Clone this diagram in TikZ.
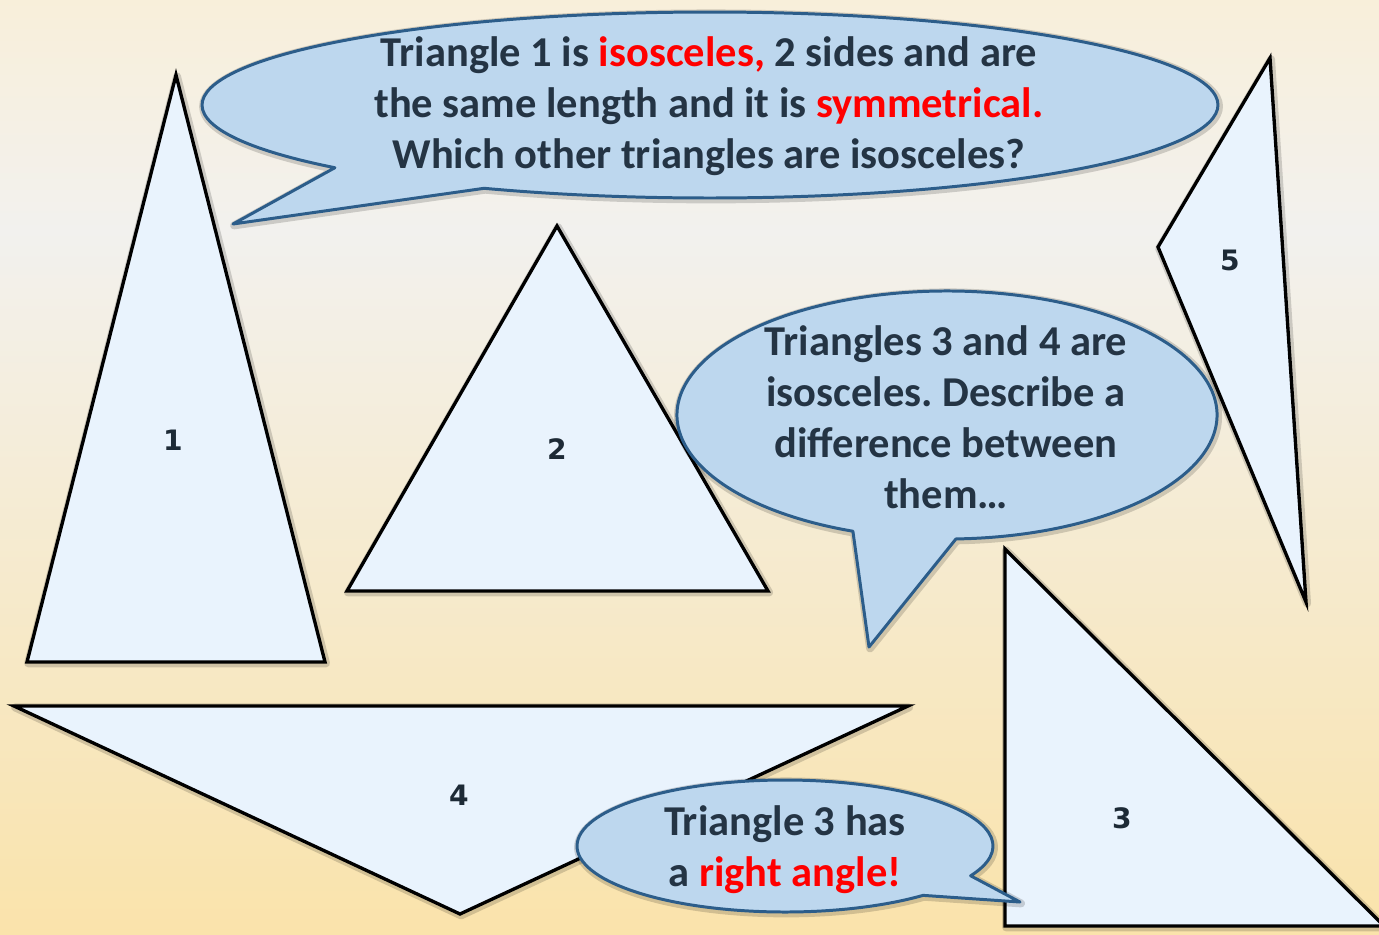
\documentclass[tikz,border=0pt]{standalone}
\usepackage{fontspec}
\setmainfont{Carlito}
\newfontfamily\labelfont{DejaVu Sans}
\usepackage{xcolor}
\usepackage{tikz}
\usetikzlibrary{calc}
\definecolor{bgtop}{HTML}{F8EFDA}
\definecolor{bgmid}{HTML}{F2F1EE}
\definecolor{bgbot}{HTML}{FAE3AB}
\definecolor{triblue}{HTML}{E9F3FD}
\definecolor{bubblefill}{HTML}{BDD7EE}
\definecolor{bubbleedge}{HTML}{2C5D8A}
\definecolor{textdark}{HTML}{243444}
\definecolor{hlred}{HTML}{FF0000}
\frenchspacing

\begin{document}
\begin{tikzpicture}[x=0.02cm, y=0.02cm,
        halo/.style={preaction={draw=black, draw opacity=0.16, line width=4.5pt, line join=round, transform canvas={shift={(0.6pt,-0.8pt)}}}},
        tri/.style={halo, draw=black, line width=1.9pt, fill=triblue, line join=miter},
        bubble/.style={halo, draw=bubbleedge, line width=1.7pt, fill=bubblefill, line join=round},
        bubbletext/.style={align=center, text=textdark, inner sep=0pt, font=\bfseries\fontsize{24.2}{29}\selectfont},
        trilabel/.style={text=textdark!80!black, inner sep=0pt, font=\labelfont\bfseries\fontsize{16}{18}\selectfont}]

        \useasboundingbox (0,0) rectangle (1379,-934);
        \shade[top color=bgtop, bottom color=bgmid] (0,0) rectangle (1379,-230);
        \shade[top color=bgmid, bottom color=bgbot] (0,-230) rectangle (1379,-934);

        % triangles
        \draw[tri] (176,-75) -- (27,-662) -- (325,-662) -- cycle;
        \draw[tri] (557,-226) -- (347,-591) -- (768,-591) -- cycle;
        \draw[tri] (1005,-549) -- (1005,-926) -- (1384,-926) -- cycle;
        \draw[tri] (14,-706) -- (908,-706) -- (460,-914) -- cycle;
        \draw[tri] (1270,-58) -- (1158,-247) -- (1306,-602) -- cycle;

        \node[trilabel] (lab1) at (173,-440) {1};
        \node[trilabel] (lab2) at (557,-449) {2};
        \node[trilabel] (lab3) at (1122,-818) {3};
        \node[trilabel] (lab4) at (459,-795) {4};
        \node[trilabel] (lab5) at (1230,-260) {5};

        % speech bubbles
        \coordinate (c1) at (710,-105);
        \coordinate (tip1) at (233,-224);
        \draw[bubble] (tip1) -- ($(c1)+(222.4:508 and 93)$)
            arc[start angle=222.4, end angle=-116.4, x radius=508, y radius=93] -- cycle;

        \coordinate (c2) at (947,-415);
        \coordinate (tip2) at (869,-647);
        \draw[bubble] (tip2) -- ($(c2)+(249.6:270 and 124)$)
            arc[start angle=249.6, end angle=-88.1, x radius=270, y radius=124] -- cycle;

        \coordinate (c3) at (785,-846);
        \coordinate (tip3) at (1020,-902);
        \draw[bubble] (tip3) -- ($(c3)+(311.6:208 and 66)$)
            arc[start angle=311.6, end angle=-26.8, x radius=208, y radius=66] -- cycle;

        \node[bubbletext] (say1) at (709,-106) {Triangle 1 is \textcolor{hlred}{isosceles,} 2 sides and are\\the same length and it is \textcolor{hlred}{symmetrical.}\\Which other triangles are isosceles?};
        \node[bubbletext] (say2) at (946,-417) {Triangles 3 and 4 are\\isosceles. Describe a\\difference between\\them…};
        \node[bubbletext] (say3) at (785,-850) {Triangle 3 has\\a \textcolor{hlred}{right angle!}};

    \end{tikzpicture}
\end{document}
